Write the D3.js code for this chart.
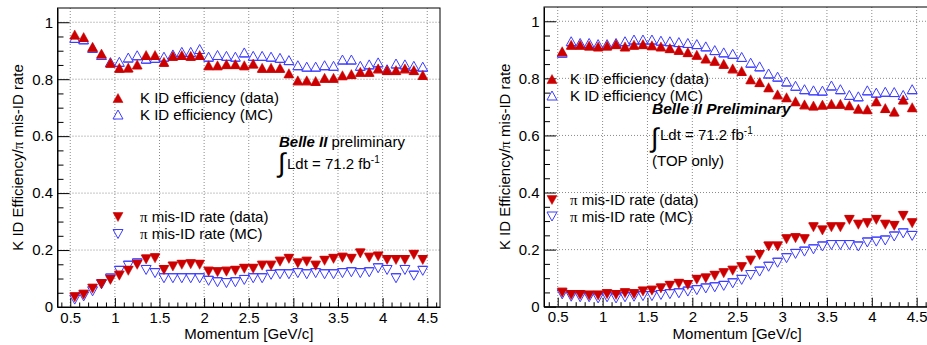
<!DOCTYPE html>
<html>
<head>
<meta charset="utf-8">
<script src="https://cdn.jsdelivr.net/npm/d3@7"></script>
<style>
  body { margin: 0; background: #fff; }
  svg { display: block; font-family: "Liberation Sans", Arial, sans-serif; }
</style>
</head>
<body>
<svg id="chart" width="927" height="345"></svg>
<script>
// bin centres (GeV/c), 0.1 wide bins
const momentum = [0.55, 0.65, 0.75, 0.85, 0.95, 1.05, 1.15, 1.25, 1.35, 1.45,
                  1.55, 1.65, 1.75, 1.85, 1.95, 2.05, 2.15, 2.25, 2.35, 2.45,
                  2.55, 2.65, 2.75, 2.85, 2.95, 3.05, 3.15, 3.25, 3.35, 3.45,
                  3.55, 3.65, 3.75, 3.85, 3.95, 4.05, 4.15, 4.25, 4.35, 4.45];
const binHalfWidth = 0.05;

// left panel
const leftKEffData = [0.957, 0.948, 0.914, 0.89, 0.858, 0.84, 0.841, 0.852, 0.885, 0.885,
                      0.861, 0.882, 0.885, 0.882, 0.885, 0.849, 0.849, 0.853, 0.853, 0.849,
                      0.855, 0.84, 0.84, 0.84, 0.821, 0.796, 0.796, 0.794, 0.805, 0.805,
                      0.814, 0.818, 0.826, 0.826, 0.838, 0.832, 0.832, 0.838, 0.832, 0.815];
const leftKEffMC = [0.945, 0.94, 0.91, 0.885, 0.86, 0.861, 0.876, 0.884, 0.872, 0.875,
                    0.879, 0.887, 0.896, 0.896, 0.906, 0.879, 0.885, 0.882, 0.879, 0.894,
                    0.882, 0.882, 0.879, 0.875, 0.867, 0.849, 0.844, 0.844, 0.849, 0.847,
                    0.869, 0.869, 0.847, 0.852, 0.859, 0.835, 0.855, 0.852, 0.847, 0.844];
const leftPiMisData = [0.034, 0.043, 0.064, 0.08, 0.095, 0.11, 0.127, 0.148, 0.167, 0.171,
                       0.13, 0.142, 0.148, 0.15, 0.148, 0.124, 0.122, 0.124, 0.127, 0.134,
                       0.134, 0.145, 0.145, 0.159, 0.169, 0.153, 0.159, 0.145, 0.162, 0.169,
                       0.173, 0.169, 0.188, 0.173, 0.177, 0.165, 0.165, 0.165, 0.183, 0.165];
const leftPiMisMC = [0.026, 0.037, 0.055, 0.08, 0.1, 0.127, 0.145, 0.153, 0.13, 0.119,
                     0.101, 0.101, 0.101, 0.101, 0.101, 0.092, 0.087, 0.084, 0.087, 0.095,
                     0.101, 0.101, 0.113, 0.115, 0.115, 0.119, 0.115, 0.119, 0.115, 0.115,
                     0.119, 0.122, 0.119, 0.122, 0.136, 0.13, 0.101, 0.13, 0.11, 0.127];

// right panel (TOP only)
const rightKEffData = [0.895, 0.918, 0.918, 0.915, 0.912, 0.915, 0.92, 0.912, 0.918, 0.92,
                       0.916, 0.912, 0.906, 0.9, 0.892, 0.883, 0.87, 0.862, 0.851, 0.835,
                       0.826, 0.797, 0.787, 0.769, 0.744, 0.734, 0.72, 0.709, 0.705, 0.708,
                       0.711, 0.711, 0.706, 0.694, 0.692, 0.72, 0.696, 0.684, 0.726, 0.699];
const rightKEffMC = [0.89, 0.93, 0.924, 0.924, 0.92, 0.92, 0.924, 0.93, 0.936, 0.936,
                     0.936, 0.932, 0.93, 0.927, 0.924, 0.92, 0.912, 0.899, 0.891, 0.886,
                     0.875, 0.855, 0.842, 0.817, 0.806, 0.789, 0.774, 0.762, 0.758, 0.757,
                     0.775, 0.762, 0.742, 0.737, 0.758, 0.75, 0.753, 0.752, 0.742, 0.762];
const rightPiMisData = [0.049, 0.041, 0.041, 0.039, 0.039, 0.044, 0.041, 0.047, 0.044, 0.053,
                        0.056, 0.064, 0.073, 0.08, 0.076, 0.094, 0.099, 0.108, 0.117, 0.126,
                        0.138, 0.161, 0.181, 0.211, 0.211, 0.236, 0.24, 0.236, 0.278, 0.267,
                        0.278, 0.278, 0.304, 0.287, 0.292, 0.304, 0.287, 0.283, 0.318, 0.292];
const rightPiMisMC = [0.043, 0.035, 0.033, 0.033, 0.029, 0.033, 0.029, 0.033, 0.035, 0.037,
                      0.037, 0.041, 0.044, 0.047, 0.053, 0.058, 0.064, 0.068, 0.073, 0.082,
                      0.094, 0.111, 0.123, 0.14, 0.154, 0.17, 0.185, 0.193, 0.201, 0.211,
                      0.216, 0.216, 0.216, 0.211, 0.225, 0.228, 0.232, 0.246, 0.257, 0.248];

const xTicks = [0.5, 1, 1.5, 2, 2.5, 3, 3.5, 4, 4.5];
const yTicks = [0, 0.2, 0.4, 0.6, 0.8, 1];
const xTitle = "Momentum [GeV/c]";
const yTitle = "K ID Efficiency/π mis-ID rate";
const legendLabels = ["K ID efficiency (data)", "K ID efficiency (MC)",
                      "π mis-ID rate (data)", "π mis-ID rate (MC)"];

const RED = "#cc0000";
const BLUE = "#3c3cff";

const panels = [
  {
    left: 57.5, right: 440, top: 8, bottom: 307, xMin: 0.357, xMax: 4.643,
    kData: leftKEffData, kMC: leftKEffMC, piData: leftPiMisData, piMC: leftPiMisMC,
    legendX: 118, legendTextX: 140, legendRows: [98, 114.5, 217, 234],
    label: "left"
  },
  {
    left: 544, right: 930.4, top: 7, bottom: 306.7, xMin: 0.347, xMax: 4.653,
    kData: rightKEffData, kMC: rightKEffMC, piData: rightPiMisData, piMC: rightPiMisMC,
    legendX: 552, legendTextX: 570, legendRows: [79, 95.5, 200, 216.5],
    label: "right"
  }
];

const svg = d3.select("#chart");

// triangle marker, bbox centred on (cx, cy)
function tri(cx, cy, up) {
  const w = 10, h = 9, s = up ? 1 : -1;
  return `M${cx - w / 2},${cy + s * h / 2}L${cx + w / 2},${cy + s * h / 2}L${cx},${cy - s * h / 2}Z`;
}

// text with the greek pi set in a serif face, like ROOT's #pi
function piText(sel, str) {
  str.split("π").forEach((part, i) => {
    if (i > 0) sel.append("tspan").attr("font-family", "'Liberation Serif', serif").text("π");
    if (part) sel.append("tspan").text(part);
  });
}

function drawPanel(p) {
  const g = svg.append("g").attr("class", p.label);

  const x = d3.scaleLinear().domain([p.xMin, p.xMax]).range([p.left, p.right]);
  const y = d3.scaleLinear().domain([0, 1.05]).range([p.bottom, p.top]);

  // dotted grid
  g.append("g").selectAll("line").data(xTicks).join("line")
    .attr("x1", d => x(d)).attr("x2", d => x(d))
    .attr("y1", p.top).attr("y2", p.bottom)
    .attr("stroke", "#8a8a8a").attr("stroke-dasharray", "1,2");
  g.append("g").selectAll("line").data(yTicks.filter(d => d > 0)).join("line")
    .attr("x1", p.left).attr("x2", p.right)
    .attr("y1", d => y(d)).attr("y2", d => y(d))
    .attr("stroke", "#8a8a8a").attr("stroke-dasharray", "1,2");

  // axes with ticks pointing inwards
  const xMinor = d3.range(4, 47).map(d => d / 10).filter(d => !xTicks.some(t => Math.abs(t - d) < 1e-6));
  const yMinor = d3.range(1, 21).map(d => d / 20).filter(d => !yTicks.some(t => Math.abs(t - d) < 1e-6));

  const xAxis = g.append("g").attr("transform", `translate(0,${p.bottom})`)
    .call(d3.axisBottom(x).tickValues(xTicks).tickSize(-9).tickSizeOuter(0).tickPadding(5)
      .tickFormat(d3.format("")));
  g.append("g").attr("transform", `translate(0,${p.bottom})`)
    .call(d3.axisBottom(x).tickValues(xMinor).tickSize(-4.5).tickSizeOuter(0).tickFormat(""))
    .call(a => a.select(".domain").remove());

  const yAxis = g.append("g").attr("transform", `translate(${p.left},0)`)
    .call(d3.axisLeft(y).tickValues(yTicks).tickSize(-12).tickSizeOuter(0).tickPadding(4.5)
      .tickFormat(d3.format("")));
  g.append("g").attr("transform", `translate(${p.left},0)`)
    .call(d3.axisLeft(y).tickValues(yMinor).tickSize(-6).tickSizeOuter(0).tickFormat(""))
    .call(a => a.select(".domain").remove());

  g.selectAll(".tick line, .domain").attr("stroke", "#000");
  [xAxis, yAxis].forEach(a => a.selectAll("text")
    .attr("font-size", 15).attr("fill", "#000").attr("font-family", "'Liberation Sans', Arial, sans-serif"));

  // frame
  g.append("rect")
    .attr("x", p.left).attr("y", p.top)
    .attr("width", p.right - p.left).attr("height", p.bottom - p.top)
    .attr("fill", "none").attr("stroke", "#000");

  // points: MC first so data sits on top
  const series = [
    { vals: p.kMC, up: true, filled: false },
    { vals: p.piMC, up: false, filled: false },
    { vals: p.kData, up: true, filled: true },
    { vals: p.piData, up: false, filled: true }
  ];
  series.forEach(s => {
    const col = s.filled ? RED : BLUE;
    const pts = momentum.map((m, i) => [m, s.vals[i]]);
    const sg = g.append("g");
    // bin-width bars along the marker base
    sg.selectAll("line").data(pts).join("line")
      .attr("x1", d => x(d[0] - binHalfWidth)).attr("x2", d => x(d[0] + binHalfWidth))
      .attr("y1", d => y(d[1]) + (s.up ? 4.5 : -4.5))
      .attr("y2", d => y(d[1]) + (s.up ? 4.5 : -4.5))
      .attr("stroke", col).attr("stroke-width", 1);
    sg.selectAll("path").data(pts).join("path")
      .attr("d", d => tri(x(d[0]), y(d[1]), s.up))
      .attr("fill", s.filled ? RED : "none")
      .attr("stroke", col).attr("stroke-width", s.filled ? 0.5 : 1);
  });

  // legend
  const legendStyle = [
    { up: true, filled: true }, { up: true, filled: false },
    { up: false, filled: true }, { up: false, filled: false }
  ];
  legendLabels.forEach((lab, i) => {
    const ly = p.legendRows[i];
    const st = legendStyle[i];
    g.append("path")
      .attr("d", tri(p.legendX, ly, st.up))
      .attr("fill", st.filled ? RED : "none")
      .attr("stroke", st.filled ? RED : BLUE).attr("stroke-width", st.filled ? 0.5 : 1);
    const t = g.append("text").attr("x", p.legendTextX).attr("y", ly + 5.4)
      .attr("font-size", 15).attr("fill", "#000");
    piText(t, lab);
  });

  // axis titles
  g.append("text")
    .attr("x", (p.left + p.right) / 2).attr("y", 339)
    .attr("text-anchor", "middle").attr("font-size", 15).text(xTitle);
  const yt = g.append("text")
    .attr("transform", `translate(${p.left - 34.5},${(p.top + p.bottom) / 2}) rotate(-90)`)
    .attr("text-anchor", "middle").attr("font-size", 15);
  piText(yt, yTitle);
}

panels.forEach(drawPanel);

// luminosity labels
function lumi(x, baseline, intTop) {
  svg.append("text").attr("x", x - 1).attr("y", intTop + 22)
    .attr("font-size", 27).attr("font-family", "'DejaVu Sans', sans-serif")
    .attr("font-weight", 200).text("∫");
  const t = svg.append("text").attr("x", x + 8).attr("y", baseline).attr("font-size", 15);
  t.append("tspan").text("Ldt = 71.2 fb");
  t.append("tspan").attr("font-size", 10).attr("dy", -6).text("-1");
}

const lt = svg.append("text").attr("x", 279).attr("y", 147).attr("font-size", 15);
lt.append("tspan").attr("font-weight", "bold").attr("font-style", "italic").text("Belle II");
lt.append("tspan").text(" preliminary");
lumi(279, 168.5, 150);

svg.append("text").attr("x", 652).attr("y", 113.5).attr("font-size", 15.5)
  .attr("font-weight", "bold").attr("font-style", "italic").text("Belle II Preliminary");
lumi(652, 140, 125);
svg.append("text").attr("x", 652).attr("y", 166).attr("font-size", 15).text("(TOP only)");
</script>
</body>
</html>
